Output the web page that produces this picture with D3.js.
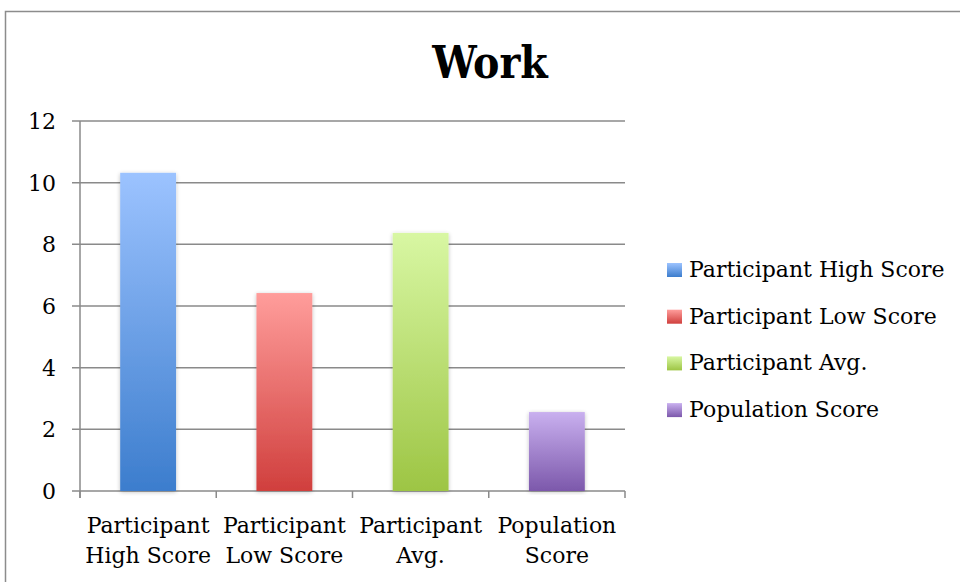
<!DOCTYPE html>
<html>
<head>
<meta charset="utf-8">
<script src="https://cdn.jsdelivr.net/npm/d3@7"></script>
<style>
  body{margin:0;background:#fff;}
  svg{display:block;}
</style>
</head>
<body>
<div id="viz"></div>
<script>
var categories=['Participant High Score','Participant Low Score','Participant Avg.','Population Score'];
var catLines=[['Participant','High Score'],['Participant','Low Score'],['Participant','Avg.'],['Population','Score']];
var values=[10.32,6.42,8.37,2.56];
var yTicks=[0,2,4,6,8,10,12];
var topColors=['#9cc3ff','#ff9d9b','#d8f7a3','#c9b0ef'];
var bottomColors=['#3c7dcd','#d03f3d','#9dc544','#7c58ab'];

var width=960,height=582;
var pLeft=80,pRight=625,pTop=121,pBottom=491;
var font='"DejaVu Serif", "Liberation Serif", serif';

var svg=d3.select('#viz').append('svg')
    .attr('width',width)
    .attr('height',height);

var defs=svg.append('defs');
var grads=defs.selectAll('linearGradient').data(categories)
    .enter().append('linearGradient')
    .attr('id',function(d,i){return 'g'+i;})
    .attr('x1',0).attr('y1',0).attr('x2',0).attr('y2',1);
grads.append('stop').attr('offset','0%').attr('stop-color',function(d,i){return topColors[i];});
grads.append('stop').attr('offset','100%').attr('stop-color',function(d,i){return bottomColors[i];});

var shadow=defs.append('filter').attr('id','shadow')
    .attr('x','-20%').attr('y','-5%').attr('width','140%').attr('height','110%');
shadow.append('feGaussianBlur').attr('in','SourceAlpha').attr('stdDeviation',2);
shadow.append('feOffset').attr('dx',0).attr('dy',1).attr('result','b');
shadow.append('feComponentTransfer').append('feFuncA').attr('type','linear').attr('slope',0.25);
var m=shadow.append('feMerge');
m.append('feMergeNode');
m.append('feMergeNode').attr('in','SourceGraphic');

// outer frame
svg.append('rect')
    .attr('x',5.5).attr('y',11.5)
    .attr('width',width).attr('height',height)
    .style('fill','none').style('stroke','#8c8c8c').style('stroke-width',1.5);

var yScale=d3.scaleLinear().domain([0,12]).range([pBottom,pTop]);
var xScale=d3.scaleBand().domain(categories).range([pLeft,pRight]).paddingInner(0.59).paddingOuter(0.295);
var xBand=d3.scaleBand().domain(categories).range([pLeft,pRight]);

// gridlines
svg.append('g').selectAll('line').data(yTicks)
    .enter().append('line')
    .attr('x1',pLeft-8).attr('x2',pRight)
    .attr('y1',function(d){return yScale(d);})
    .attr('y2',function(d){return yScale(d);})
    .style('stroke','#8a8a8a').style('stroke-width',1.5);

// y axis line
svg.append('line')
    .attr('x1',pLeft).attr('x2',pLeft)
    .attr('y1',pTop).attr('y2',pBottom+7)
    .style('stroke','#8a8a8a').style('stroke-width',1.5);

// x ticks at band boundaries
var bounds=categories.map(function(c){return xBand(c);}).concat([pRight]);
svg.append('g').selectAll('line').data(bounds)
    .enter().append('line')
    .attr('x1',function(d){return d;}).attr('x2',function(d){return d;})
    .attr('y1',pBottom).attr('y2',pBottom+7)
    .style('stroke','#8a8a8a').style('stroke-width',1.5);

// y labels
svg.append('g').selectAll('text').data(yTicks)
    .enter().append('text')
    .attr('x',56)
    .attr('y',function(d){return yScale(d)+8;})
    .attr('text-anchor','end')
    .style('font-family',font).style('font-size','22px').style('fill','#000')
    .text(function(d){return d;});

// bars
svg.append('g').selectAll('rect').data(values)
    .enter().append('rect')
    .attr('x',function(d,i){return xScale(categories[i]);})
    .attr('width',xScale.bandwidth())
    .attr('y',function(d){return yScale(d);})
    .attr('height',function(d){return pBottom-yScale(d);})
    .style('fill',function(d,i){return 'url(#g'+i+')';})
    .attr('filter','url(#shadow)');

// x labels
var xl=svg.append('g').selectAll('text').data(catLines)
    .enter().append('text')
    .attr('text-anchor','middle')
    .style('font-family',font).style('font-size','22px').style('fill','#000');
xl.selectAll('tspan').data(function(d,i){return d.map(function(s){return {s:s,i:i};});})
    .enter().append('tspan')
    .attr('x',function(d){return xBand(categories[d.i])+xBand.bandwidth()/2;})
    .attr('y',function(d,j){return 533+j*30;})
    .text(function(d){return d.s;});

// title
svg.append('text')
    .attr('x',490).attr('y',78)
    .attr('text-anchor','middle')
    .style('font-family','"DejaVu Serif Condensed", "Liberation Serif", serif')
    .style('font-weight','bold').style('font-size','44px')
    .text('Work');

// legend
var lg=svg.append('g').selectAll('g').data(categories)
    .enter().append('g')
    .attr('transform',function(d,i){return 'translate(667,'+(263+i*46.7)+')';});
lg.append('rect')
    .attr('width',15).attr('height',14)
    .style('fill',function(d,i){return 'url(#g'+i+')';});
lg.append('text')
    .attr('x',22).attr('y',14)
    .style('font-family',font).style('font-size','22px')
    .text(function(d){return d;});
</script>
</body>
</html>
